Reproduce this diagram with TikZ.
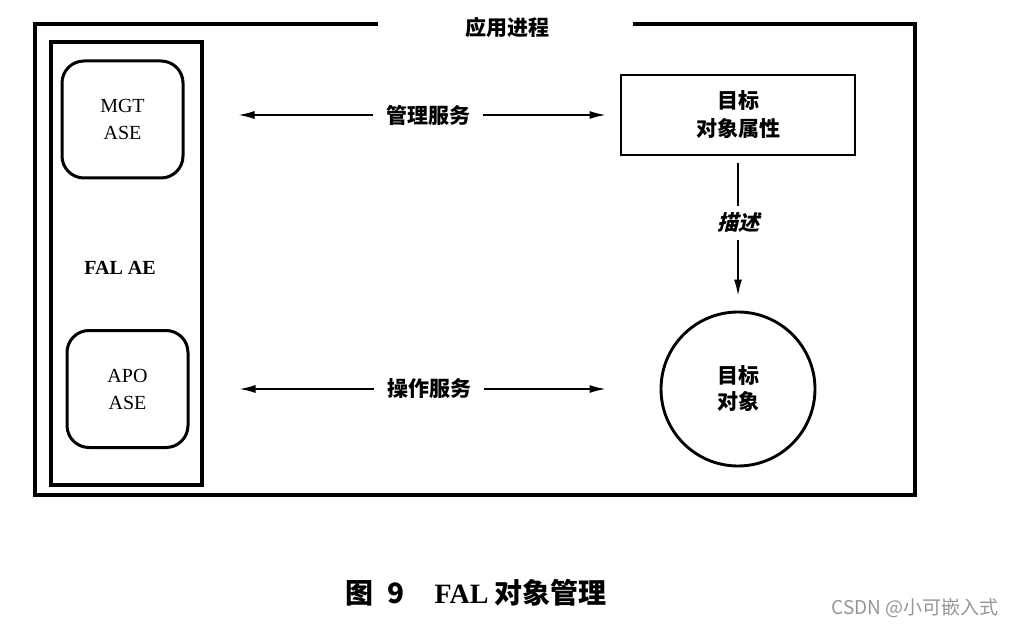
\documentclass[tikz,border=0pt]{standalone}
\usepackage{fontspec}
\setmainfont{Liberation Serif}
\newfontfamily\hei{Noto Sans CJK SC}
\newfontfamily\heislant{Noto Sans CJK SC}[FakeSlant=0.25]
\usetikzlibrary{arrows.meta,positioning}
\definecolor{markgrey}{RGB}{150,150,150}

\begin{document}
\begin{tikzpicture}[x=1pt, y=-1pt,
  frame/.style={draw=black, line width=3.1pt},
  ase/.style={draw=black, line width=3pt, rounded corners=22pt, minimum width=121pt, minimum height=117pt, align=center, font=\fontsize{20}{27}\selectfont},
  target/.style={draw=black, line width=2.9pt, align=center, font=\hei\bfseries\fontsize{21}{28}\selectfont},
  service/.style={draw=black, line width=1.5pt, {Latex[length=16pt,width=8pt]}-{Latex[length=16pt,width=8pt]}},
  line/.style={draw=black, line width=1.5pt, -{Latex[length=16pt,width=8pt]}},
  tag/.style={fill=white, inner xsep=13pt, inner ysep=7pt, font=\hei\bfseries\fontsize{21}{24}\selectfont}]

  \useasboundingbox (0,0) rectangle (1015,631);

  % application process frame
  \draw[frame] (378,24) -- (35,24) -- (35,495) -- (915,495) -- (915,24) -- (633,24);
  \node[font=\hei\bfseries\fontsize{21}{24}\selectfont] (title) at (507,27) {应用进程};

  % FAL AE
  \node[frame, minimum width=151pt, minimum height=443pt] (ae) at (126.5,263.5) {};
  \node[font=\bfseries\fontsize{20}{24}\selectfont] (aelabel) at (120,268) {FAL AE};
  \node[ase] (mgt) at (122.5,119.5) {MGT\\ASE};
  \node[ase] (apo) at (127.5,389) {APO\\ASE};

  % target side
  \node[target, minimum width=234pt, minimum height=80pt] (attr) at (738,115) {目标\\对象属性};
  \node[target, circle, minimum size=154pt, font=\hei\bfseries\fontsize{21}{26}\selectfont] (obj) at (738,389) {目标\\对象};

  \draw[service, shorten <=54pt, shorten >=14pt] (mgt.east |- attr.west) -- node[tag, pos=0.56] {管理服务} (attr.west);
  \draw[service, shorten <=50pt, shorten >=54pt] (apo.east) -- node[tag, pos=0.51] {操作服务} (obj.west);
  \draw[line, shorten <=7pt, shorten >=15pt] (attr.south) -- node[tag, pos=0.43, inner xsep=4pt, font=\heislant\bfseries\fontsize{21}{24}\selectfont] {描述} (obj.north);

  % caption
  \node[font=\fontsize{28}{30}\selectfont] (caption) at (476,593) {{\hei\bfseries 图\hspace{14pt}9}\hspace{30pt}{\bfseries FAL}\hspace{6pt}{\hei\bfseries 对象管理}};
  \node[anchor=east, text=markgrey, font=\hei\fontsize{19}{22}\selectfont] (mark) at (1002,608) {CSDN @小可嵌入式};
\end{tikzpicture}
\end{document}
